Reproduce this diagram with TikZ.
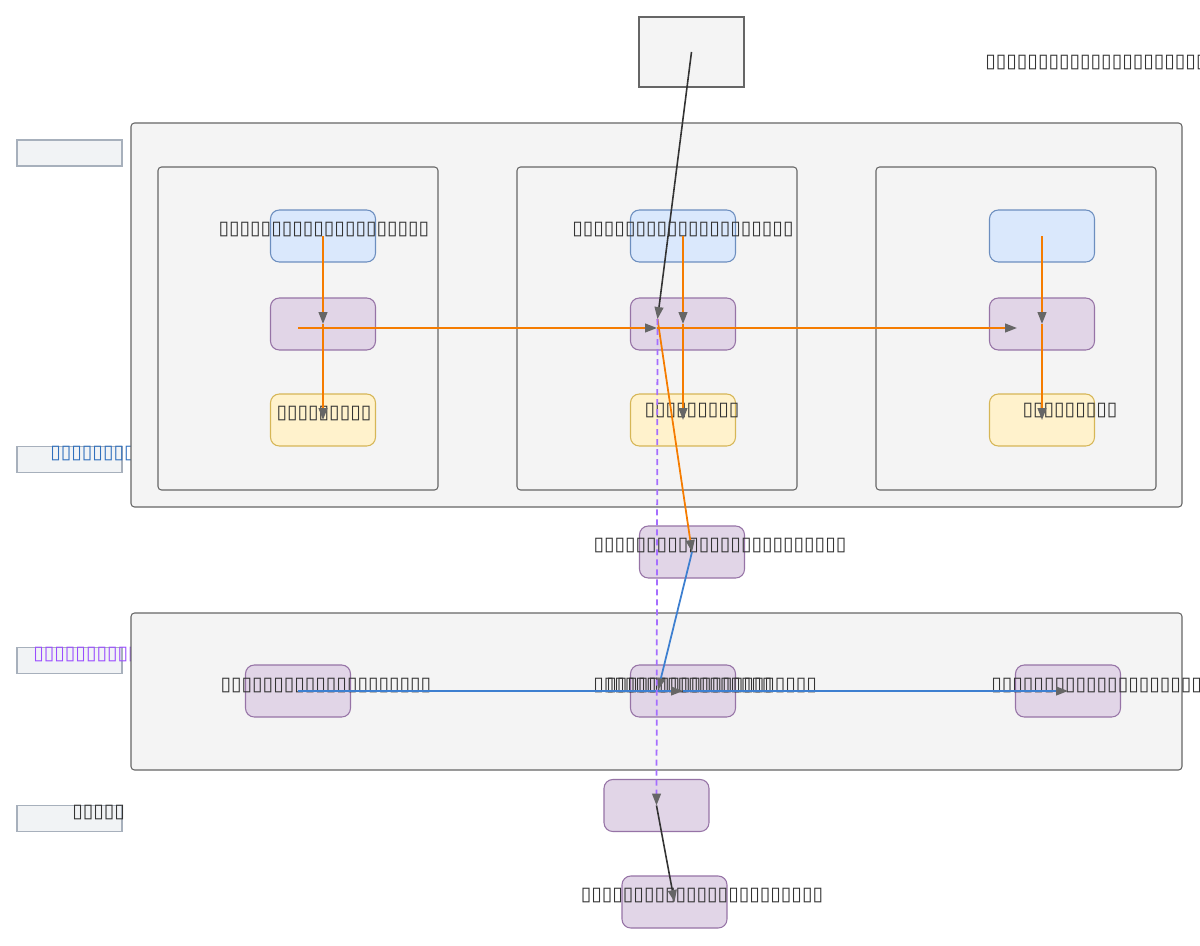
\documentclass[tikz,border=0pt]{standalone}
\usepackage{fontspec}
\newfontfamily\tofufont{DejaVu Sans}
\usetikzlibrary{arrows.meta}

\definecolor{txt}{HTML}{333333}
\definecolor{grpline}{HTML}{666666}
\definecolor{grpfill}{HTML}{F4F4F4}
\definecolor{keyline}{HTML}{A7B0BC}
\definecolor{keyfill}{HTML}{F1F3F5}
\definecolor{bluline}{HTML}{6C8EBF}
\definecolor{blufill}{HTML}{DAE8FC}
\definecolor{purline}{HTML}{9673A6}
\definecolor{purfill}{HTML}{E1D5E7}
\definecolor{yelline}{HTML}{D6B656}
\definecolor{yelfill}{HTML}{FFF2CC}
\definecolor{orgline}{HTML}{F57C00}
\definecolor{bedge}{HTML}{3D7FD0}
\definecolor{pedge}{HTML}{A56EFF}
\definecolor{tipgray}{HTML}{666666}
\definecolor{keyblue}{HTML}{2F6FBD}
\definecolor{keypurple}{HTML}{9A4DFF}

\begin{document}
\begin{tikzpicture}[x=0.02cm, y=-0.02cm,
  font=\tofufont\fontsize{10.9}{12}\selectfont, text=txt,
  grp/.style={draw=grpline, fill=grpfill, rounded corners=2pt, line width=0.6pt},
  key/.style={draw=keyline, fill=keyfill, line width=0.6pt, minimum width=2.1cm,
              minimum height=0.52cm, inner sep=0pt},
  nd/.style={rounded corners=5pt, line width=0.6pt, minimum width=2.1cm,
             minimum height=1.04cm, inner sep=0pt},
  blu/.style={nd, draw=bluline, fill=blufill},
  pur/.style={nd, draw=purline, fill=purfill},
  yel/.style={nd, draw=yelline, fill=yelfill},
  lbl/.style={inner sep=0pt},
  tip/.style={-{Triangle[length=6.8pt, width=5pt, color=tipgray]}},
  oe/.style={tip, draw=orgline, line width=1pt},
  be/.style={tip, draw=bedge, line width=1pt},
  ke/.style={tip, draw=txt, line width=0.9pt},
  pe/.style={tip, draw=pedge, line width=1pt, dash pattern=on 3.4pt off 2.3pt}
]
\fill[white] (0,0) rectangle (1200,946);
\useasboundingbox (0,0) rectangle (1200,946);

% legend on the left
\node[key] (k1) at (69.5,153) {};
\node[key] (k2) at (69.5,459.5) {};
\node[key] (k3) at (69.5,660.5) {};
\node[key] (k4) at (69.5,818.5) {};
\node[lbl, anchor=west, text=keyblue] (k2t) at (50,454) {▯▯▯▯▯▯▯▯▯▯};
\node[lbl, anchor=west, text=keypurple] (k3t) at (33,655) {▯▯▯▯▯▯▯▯▯▯▯▯};
\node[lbl, anchor=west] (k4t) at (72,813) {▯▯▯▯▯};

% top box
\node[draw=grpline, fill=grpfill, line width=0.6pt, minimum width=2.1cm,
      minimum height=1.4cm, inner sep=0pt] (top) at (691.5,52) {};
\node[lbl, anchor=west] (topt) at (985,63) {▯▯▯▯▯▯▯▯▯▯▯▯▯▯▯▯▯▯▯▯▯▯▯▯};

% upper group with three lanes
\draw[grp] (131,123) rectangle (1182,507);
\draw[grp] (158,167) rectangle (438,490);
\draw[grp] (517,167) rectangle (797,490);
\draw[grp] (876,167) rectangle (1156,490);

\node[blu] (b1) at (323,236) {};
\node[pur] (p1) at (323,324) {};
\node[yel] (y1) at (323,420) {};
\node[blu] (b2) at (683,236) {};
\node[pur] (p2) at (683,324) {};
\node[yel] (y2) at (683,420) {};
\node[blu] (b3) at (1042,236) {};
\node[pur] (p3) at (1042,324) {};
\node[yel] (y3) at (1042,420) {};

\node[lbl] (b1t) at (324,230) {▯▯▯▯▯▯▯▯▯▯▯▯▯▯▯▯▯▯▯▯};
\node[lbl] (b2t) at (683,230) {▯▯▯▯▯▯▯▯▯▯▯▯▯▯▯▯▯▯▯▯▯};
\node[lbl] (y1t) at (324,414) {▯▯▯▯▯▯▯▯▯};
\node[lbl] (y2t) at (692,411) {▯▯▯▯▯▯▯▯▯};
\node[lbl] (y3t) at (1070,411) {▯▯▯▯▯▯▯▯▯};

% middle node
\node[pur] (m) at (692,552) {};
\node[lbl] (mt) at (720,546) {▯▯▯▯▯▯▯▯▯▯▯▯▯▯▯▯▯▯▯▯▯▯▯▯};

% lower group
\draw[grp] (131,613) rectangle (1182,770);
\node[pur] (c1) at (298,691) {};
\node[pur] (c2) at (683,691) {};
\node[pur] (c3) at (1068,691) {};
\node[lbl] (c1t) at (326,686) {▯▯▯▯▯▯▯▯▯▯▯▯▯▯▯▯▯▯▯▯};
\node[lbl, anchor=west] (c2ta) at (593,686) {▯▯▯▯▯▯▯▯▯▯▯▯▯▯▯▯▯};
\node[lbl, anchor=west] (c2tb) at (606,686) {▯▯▯▯▯▯▯▯▯▯▯▯▯▯▯▯▯▯▯▯};
\node[lbl, anchor=west] (c3t) at (991,686) {▯▯▯▯▯▯▯▯▯▯▯▯▯▯▯▯▯▯▯▯▯};

% bottom nodes
\node[pur] (s) at (656.5,805.5) {};
\node[pur] (bot) at (674.5,902) {};
\node[lbl] (bott) at (702,896) {▯▯▯▯▯▯▯▯▯▯▯▯▯▯▯▯▯▯▯▯▯▯▯};

% free ends
\coordinate (hub) at (657.5,319);
\coordinate (src) at (298,328);
\coordinate (mid) at (657,328);
\coordinate (far) at (1017,328);
\coordinate (drop) at (658,690);

% connectors
\draw[oe] (b1.center) -- (p1.center);
\draw[oe] (p1.center) -- (y1.center);
\draw[oe] (b2.center) -- (p2.center);
\draw[oe] (p2.center) -- (y2.center);
\draw[oe] (b3.center) -- (p3.center);
\draw[oe] (p3.center) -- (y3.center);
\draw[oe] (src) -- (mid);
\draw[oe] (mid) -- (far);
\draw[ke] (top.center) -- (hub);
\draw[oe] (hub) -- (m.center);
\draw[be] (m.center) -- (drop);
\draw[be] (c1.center) -- (c2.center);
\draw[be] (c2.center) -- (c3.center);
\draw[pe] (hub) -- (s.center);
\draw[ke] (s.center) -- (bot.center);
\end{tikzpicture}
\end{document}
